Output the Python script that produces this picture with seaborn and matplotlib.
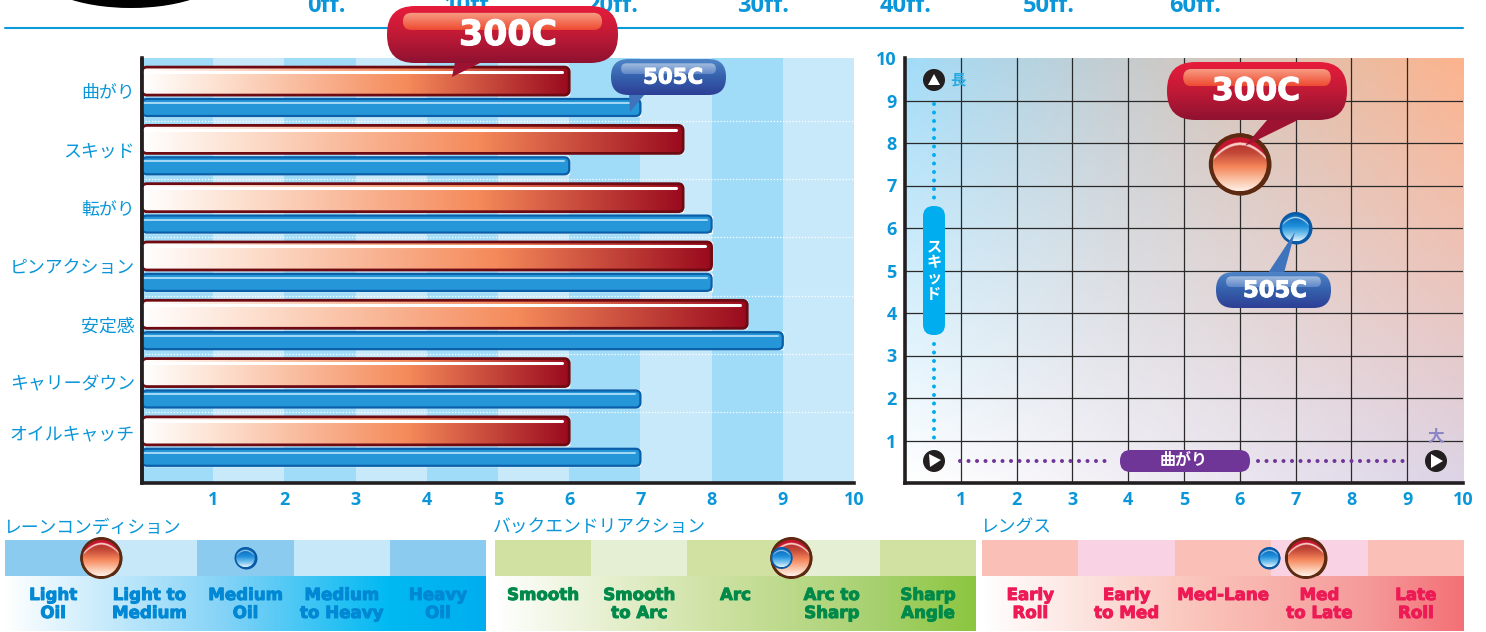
import numpy as np
import pandas as pd
import matplotlib
matplotlib.use("Agg")
import matplotlib.pyplot as plt
import matplotlib.patheffects as pe
import seaborn as sns
from matplotlib.colors import LinearSegmentedColormap, to_rgba
from matplotlib.patches import Circle, Ellipse, FancyBboxPatch, Polygon

W, H = 1486, 632

categories = ["曲がり", "スキッド", "転がり", "ピンアクション", "安定感", "キャリーダウン", "オイルキャッチ"]
vals_300c = [6, 7.6, 7.6, 8, 8.5, 6, 6]
vals_505c = [7, 6, 8, 8, 9, 7, 7]

# hook / skid position in the map on the right
map_x = [6, 7]
map_y = [7.5, 6]

top_labels = ["0ff.", "10ff.", "20ff.", "30ff.", "40ff.", "50ff.", "60ff."]

lane_title = "レーンコンディション"
lane_labels = ["Light\nOil", "Light to\nMedium", "Medium\nOil", "Medium\nto Heavy", "Heavy\nOil"]
lane_pos = [1.0, 2.5]
back_title = "バックエンドリアクション"
back_labels = ["Smooth", "Smooth\nto Arc", "Arc", "Arc to\nSharp", "Sharp\nAngle"]
back_pos = [3.08, 2.98]
length_title = "レングス"
length_labels = ["Early\nRoll", "Early\nto Med", "Med-Lane", "Med\nto Late", "Late\nRoll"]
length_pos = [3.36, 2.98]

BLUE_TXT = "#0a96d8"
INK = "#231f20"

sns.set_theme(style="white")
plt.rcParams["font.family"] = ["Noto Sans CJK JP", "DejaVu Sans"]

fig = plt.figure(figsize=(W / 100, H / 100), dpi=100, facecolor="white")


def axes_px(x0, y0, x1, y1):
    return fig.add_axes([x0 / W, 1 - y1 / H, (x1 - x0) / W, (y1 - y0) / H])


def ramp(stops, vertical=False):
    cmap = LinearSegmentedColormap.from_list("r", stops)
    arr = cmap(np.linspace(0, 1, 256))
    return arr[:, None, :] if vertical else arr[None, :, :]


# overlay in pixel coordinates for the glossy bits
ov = axes_px(0, 0, W, H)
ov.set_xlim(0, W)
ov.set_ylim(H, 0)
ov.set_autoscale_on(False)
ov.axis("off")
ov.patch.set_alpha(0)
ov.set_zorder(5)


def to_px(ax, x, y):
    d = ax.transData.transform((x, y))
    return d[0], H - d[1]


def rounded(x0, y0, x1, y1, r, z, **kw):
    p = FancyBboxPatch((x0, y0), x1 - x0, y1 - y0, boxstyle=f"round,pad=0,rounding_size={r}", zorder=z, **kw)
    ov.add_patch(p)
    return p


def fill_grad(x0, y0, x1, y1, arr, clip, z):
    im = ov.imshow(arr, extent=[x0, x1, y1, y0], aspect="auto", interpolation="bilinear", zorder=z)
    if clip is not None:
        im.set_clip_path(clip)


def ball(cx, cy, r, red, z):
    if red:
        stops = [(0, "#a81f2a"), (.3, "#c44a38"), (.55, "#f5855a"), (.8, "#fbc4a8"), (1, "#fff0e8")]
        rim, cap, shine, inner = "#5c2a10", "#c4152f", "#f9cfc6", .87
    else:
        stops = [(0, "#0a5fae"), (.45, "#1e90dc"), (.75, "#7cc4ee"), (1, "#e0f2fb")]
        rim, cap, shine, inner = "#0b5aa6", "#0a6ab8", "#bfe3f7", .84
    ov.add_patch(Circle((cx, cy), r, fc=rim, ec="none", zorder=z))
    v, u = np.mgrid[-1:1:160j, -1:1:160j]
    img = LinearSegmentedColormap.from_list("b", stops)((v + 1) / 2)
    dome = -0.7 + 0.55 * u ** 2
    img[v < dome] = to_rgba(shine)
    img[v < dome - 0.1] = to_rgba(cap)
    clip = Circle((cx, cy), r * inner, fc="none", ec="none", zorder=z)
    ov.add_patch(clip)
    ri = r * inner
    fill_grad(cx - ri, cy - ri, cx + ri, cy + ri, img, clip, z + .1)


def bubble(x0, y0, x1, y1, tail, label, size, red, tx, z=20):
    if red:
        body = [(0, "#e81c3c"), (.5, "#c01a36"), (1, "#8e1230")]
        gloss = [(0, "#f7a088"), (1, "#ee4a30")]
        tail_col = "#9c1230"
    else:
        body = [(0, "#4f86c8"), (.5, "#3560ac"), (1, "#2e3f96")]
        gloss = [(0, "#a4bde0"), (1, "#5f88c8")]
        tail_col = "#3f74bc"
    ov.add_patch(Polygon(tail, closed=True, fc=tail_col, ec="none", zorder=z))
    h = y1 - y0
    p = rounded(x0, y0, x1, y1, h * .49, z + .1, fc="none", ec="none")
    fill_grad(x0, y0, x1, y1, ramp(body, True), p, z + .2)
    gx0, gy0, gx1, gy1 = x0 + h * .28, y0 + h * .12, x1 - h * .28, y0 + h * .42
    g = rounded(gx0, gy0, gx1, gy1, (gy1 - gy0) * .49, z + .3, fc="none", ec="none")
    fill_grad(gx0, gy0, gx1, gy1, ramp(gloss, True), g, z + .4)
    t = ov.text(tx, (y0 + y1) / 2 + .5, label, color="white", fontsize=size, fontweight="bold",
                family="DejaVu Sans", ha="center", va="center", zorder=z + .5)
    t.set_path_effects([pe.withStroke(linewidth=.8, foreground="white")])


# header remains
ov.add_patch(Ellipse((131, -30), 192, 76, fc="black", ec="none", zorder=1))
ov.plot([5, 1463], [28, 28], color="#0a9ad8", lw=1.5, zorder=1)
for lab, tx in zip(top_labels, [326, 470, 612, 763, 906, 1049, 1195]):
    ov.text(tx, 12, lab, color=BLUE_TXT, fontsize=17, fontweight="bold", family="Open Sans",
            ha="center", va="baseline", zorder=1)

# left chart: bars
ax = axes_px(142, 58, 854, 483)
rows = np.arange(len(categories), dtype=float)
df = pd.DataFrame({"cat": categories, "row": rows, "v300": vals_300c, "v505": vals_505c})
for k in range(10):
    ax.axvspan(k, k + 1, color="#a0dcf8" if k % 2 == 0 else "#c8e9fa", lw=0, zorder=0)
sns.barplot(data=df.assign(pos=rows - .17), x="v300", y="pos", orient="y", native_scale=True,
            width=28 / 58.3, color="#c4352f", ax=ax, zorder=2)
sns.barplot(data=df.assign(pos=rows + .283), x="v505", y="pos", orient="y", native_scale=True,
            width=17 / 58.3, color="#2596d8", ax=ax, zorder=2)
ax.set_xlim(0, 10)
ax.set_ylim(6.724, -.566)
ax.hlines(rows[:-1] + .51, 0, 10, color="white", lw=.9, ls=(0, (1, 1.5)), zorder=1)
ax.set_xlabel("")
ax.set_ylabel("")
ax.set_xticks(range(1, 11))
ax.set_xticklabels(range(1, 11), color=BLUE_TXT, fontsize=13, fontweight="bold", family="Open Sans")
ax.set_yticks(list(rows[:-1]) + [5.86])
ax.set_yticklabels(categories, color=BLUE_TXT, fontsize=12.9)
ax.tick_params(axis="y", length=0, pad=5)
ax.tick_params(axis="x", length=0, pad=6)
sns.despine(ax=ax, top=True, right=True)
for s in ["left", "bottom"]:
    ax.spines[s].set_color(INK)
    ax.spines[s].set_linewidth(2.6)

red_stops = [(0, "#ffffff"), (.18, "#fde0cf"), (.62, "#f58a5a"), (1, "#9a0a1e")]
for rect in ax.containers[0]:
    x0, y0 = to_px(ax, rect.get_x(), rect.get_y())
    x1, y1 = to_px(ax, rect.get_x() + rect.get_width(), rect.get_y() + rect.get_height())
    y0, y1 = min(y0, y1), max(y0, y1)
    p = rounded(x0, y0, x1, y1, 5, 3, fc="none", ec="none")
    fill_grad(x0, y0, x1, y1, ramp(red_stops), p, 3.1)
    rounded(x0, y0, x1, y1, 5, 3.2, fc="none", ec="#6e0a12", lw=2)
    ov.plot([x0 + 2, x1 - 7], [y0 + 4.5, y0 + 4.5], color="white", lw=2.2, solid_capstyle="round", zorder=3.3)
for rect in ax.containers[1]:
    x0, y0 = to_px(ax, rect.get_x(), rect.get_y())
    x1, y1 = to_px(ax, rect.get_x() + rect.get_width(), rect.get_y() + rect.get_height())
    y0, y1 = min(y0, y1), max(y0, y1)
    rounded(x0, y0, x1, y1, 5, 3, fc="#2596d8", ec="#0a5fa8", lw=1.6)
    ov.plot([x0 + 2, x1 - 5], [y0 + 4, y0 + 4], color="#a5d8f5", lw=1.4, solid_capstyle="round", zorder=3.3)
ov.plot([142, 142], [58, 484], color=INK, lw=2.6, solid_capstyle="butt", zorder=4)

bubble(387, 6, 618, 63, [(455, 62), (482, 62), (452, 77)], "300C", 25, True, 508)
bubble(611, 59, 726, 95, [(629, 94), (645, 94), (630, 112)], "505C", 15.3, False, 673)

# right chart: map
ax2 = axes_px(905, 58, 1463, 483)
fx, fy = np.meshgrid(np.linspace(0, 1, 64), np.linspace(0, 1, 64))
tl, tr, bl, br = [np.array(to_rgba(c)) for c in ("#a3dcf8", "#fcb48e", "#ffffff", "#dcd4e6")]
fx, fy = fx[..., None], fy[..., None]
corners = (1 - fy) * ((1 - fx) * tl + fx * tr) + fy * ((1 - fx) * bl + fx * br)
ax2.imshow(corners, extent=[0, 10, 0, 10], aspect="auto", interpolation="bilinear", zorder=0)
sns.scatterplot(x=map_x[:1], y=map_y[:1], s=(62 * .72) ** 2, color="#5c2a10", linewidth=0, legend=False, ax=ax2, zorder=3)
sns.scatterplot(x=map_x[1:], y=map_y[1:], s=(32 * .72) ** 2, color="#0b5aa6", linewidth=0, legend=False, ax=ax2, zorder=3)
ax2.set_xlim(0, 10)
ax2.set_ylim(0, 10)
ticks = list(range(1, 11))
ax2.set_xticks(ticks)
ax2.set_yticks(ticks)
ax2.set_xticklabels(ticks, color=BLUE_TXT, fontsize=13, fontweight="bold", family="Open Sans")
ax2.set_yticklabels(ticks, color=BLUE_TXT, fontsize=13, fontweight="bold", family="Open Sans")
ax2.grid(True, color="#2a2a2a", lw=.9, zorder=1)
ax2.xaxis.get_gridlines()[-1].set_visible(False)
ax2.yaxis.get_gridlines()[-1].set_visible(False)
ax2.set_axisbelow(True)
ax2.tick_params(axis="both", length=0, pad=6)
sns.despine(ax=ax2, top=True, right=True)
for s in ["left", "bottom"]:
    ax2.spines[s].set_color(INK)
    ax2.spines[s].set_linewidth(2.6)

px, py = to_px(ax2, map_x[0], map_y[0])
ball(px, py, 31, True, 10)
px, py = to_px(ax2, map_x[1], map_y[1])
ball(px, py, 16, False, 10)
bubble(1167, 62, 1347, 120, [(1268, 119), (1300, 119), (1245, 146)], "300C", 22.5, True, 1256)
bubble(1216, 272, 1331, 308, [(1295, 232), (1268, 273), (1284, 273)], "505C", 16.3, False, 1275)

# axis hints inside the map
dots = dict(lw=2.9, ls=(0, (.01, 2.1)), dash_capstyle="round", zorder=6)
ov.plot([934, 934], [104, 198], color="#00aeef", **dots)
ov.plot([934, 934], [344, 438], color="#00aeef", **dots)
ov.plot([960, 1112], [461, 461], color="#6f3597", **dots)
ov.plot([1258, 1410], [461, 461], color="#6f3597", **dots)
rounded(923, 206, 945, 335, 10.5, 6, fc="#00aeef", ec="none")
ov.text(934, 270, "ス\nキ\nッ\nド", color="white", fontsize=11, fontweight="bold", ha="center", va="center",
        linespacing=1.0, zorder=7)
rounded(1120, 450, 1250, 472, 10.5, 6, fc="#6f3597", ec="none")
ov.text(1184, 460, "曲がり", color="white", fontsize=11.5, fontweight="bold", ha="center", va="center", zorder=7)
for cx, cy, tri in [(934, 80, [(928, 85), (940, 85), (934, 74)]),
                    (934, 461, [(929, 454), (941, 460), (930, 467)]),
                    (1436, 461, [(1431, 454), (1443, 461), (1431, 468)])]:
    ov.add_patch(Circle((cx, cy), 11, fc=INK, ec="none", zorder=6))
    ov.add_patch(Polygon(tri, closed=True, fc="white", ec="none", zorder=7))
ov.text(958, 79, "長", color="#29abe2", fontsize=11, fontweight="bold", ha="center", va="center", zorder=7)
ov.text(1436, 437, "大", color="#8d86c6", fontsize=12, fontweight="bold", ha="center", va="center", zorder=7)

# condition strips along the bottom
panels = [
    (5, 486, lane_title, lane_labels, lane_pos, "#8ccbf0", "#c6e8f9", "#0088d4",
     [(0, "#ffffff"), (.45, "#86d3f7"), (.8, "#00b9f2"), (1, "#00aeef")]),
    (495, 976, back_title, back_labels, back_pos, "#d0e1a2", "#e4efd3", "#008a4a",
     [(0, "#ffffff"), (.45, "#cfe2a4"), (.8, "#a6d06e"), (1, "#8cc63f")]),
    (982, 1464, length_title, length_labels, length_pos, "#fac0b8", "#f9d3e4", "#ed1a55",
     [(0, "#ffffff"), (.45, "#fac4ba"), (.8, "#f59a9a"), (1, "#f37076")]),
]
for x0, x1, title, labels, pos, c1, c2, tc, stops in panels:
    a = axes_px(x0, 540, x1, 576)
    for k in range(5):
        a.axvspan(k, k + 1, color=c1 if k % 2 == 0 else c2, lw=0)
    sns.scatterplot(x=pos[:1], y=[.5], s=(42 * .72) ** 2, color="#5c2a10", linewidth=0, legend=False,
                    clip_on=False, ax=a)
    sns.scatterplot(x=pos[1:], y=[.5], s=(22 * .72) ** 2, color="#0b5aa6", linewidth=0, legend=False,
                    clip_on=False, ax=a)
    a.set_xlim(0, 5)
    a.set_ylim(0, 1)
    a.axis("off")
    fill_grad(x0, 576, x1, 631, ramp(stops), None, 1)
    ball(*to_px(a, pos[0], .5), 21, True, 8)
    ball(*to_px(a, pos[1], .5), 11, False, 9)
    ov.text(x0 - 2, 528, title, color=BLUE_TXT, fontsize=12.8, ha="left", va="center", zorder=2)
    cw = (x1 - x0) / 5
    for k, lab in enumerate(labels):
        ly = 604 if "\n" in lab else 595
        t = ov.text(x0 + cw * (k + .5), ly, lab, color=tc, fontsize=12, fontweight="bold", family="DejaVu Sans",
                    ha="center", va="center", linespacing=1.0, zorder=2)
        t.set_path_effects([pe.withStroke(linewidth=.7, foreground=tc)])

fig.savefig("out.png", dpi=100)
